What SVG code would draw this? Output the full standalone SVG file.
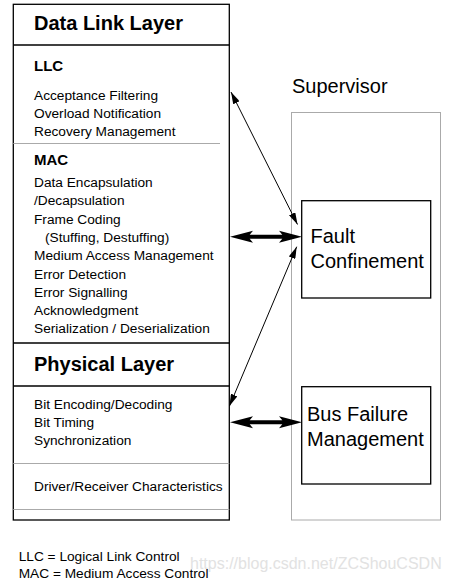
<svg xmlns="http://www.w3.org/2000/svg" width="449" height="581" viewBox="0 0 449 581">
<style>
text{font-family:"Liberation Sans",Arial,sans-serif;fill:#000}
.h{font-size:20px;font-weight:bold}
.s{font-size:15px;font-weight:bold}
.t{font-size:13.7px}
.b{font-size:20px}
.blk{stroke:#000;stroke-width:1.3;fill:none}
.gry{stroke:#aaa;stroke-width:1;fill:none}
.wm{font-size:16px;fill:#e2e2e2}
</style>
<defs>
<marker id="ah" viewBox="0 0 12 7" refX="12" refY="3.5" markerWidth="12" markerHeight="7" markerUnits="userSpaceOnUse" orient="auto-start-reverse">
<path d="M0,0 L12,3.5 L0,7 z" fill="#000"/>
</marker>
</defs>
<rect width="449" height="581" fill="#fff"/>
<g id="layers">
<rect class="blk" x="13.3" y="4.3" width="216" height="515.7"/>
<line class="blk" x1="13.3" y1="45" x2="229.3" y2="45"/>
<line class="gry" x1="13.3" y1="143.5" x2="220" y2="143.5"/>
<line class="blk" x1="13.3" y1="343" x2="229.3" y2="343"/>
<line class="blk" x1="13.3" y1="386" x2="229.3" y2="386"/>
<line class="gry" x1="13.3" y1="463.5" x2="229.3" y2="463.5"/>
<line class="gry" x1="13.3" y1="509.5" x2="229.3" y2="509.5"/>
<text class="h" x="34" y="29.5">Data Link Layer</text>
<text class="s" x="34" y="71">LLC</text>
<text class="t" x="34" y="100">Acceptance Filtering</text>
<text class="t" x="34" y="118">Overload Notification</text>
<text class="t" x="34" y="136">Recovery Management</text>
<text class="s" x="34" y="165">MAC</text>
<text class="t" x="34" y="187">Data Encapsulation</text>
<text class="t" x="34" y="205.3">/Decapsulation</text>
<text class="t" x="34" y="223.6">Frame Coding</text>
<text class="t" x="45" y="241.9">(Stuffing, Destuffing)</text>
<text class="t" x="34" y="260.2">Medium Access Management</text>
<text class="t" x="34" y="278.5">Error Detection</text>
<text class="t" x="34" y="296.8">Error Signalling</text>
<text class="t" x="34" y="315.1">Acknowledgment</text>
<text class="t" x="34" y="333.4">Serialization / Deserialization</text>
<text class="h" x="34" y="370.5">Physical Layer</text>
<text class="t" x="34" y="409">Bit Encoding/Decoding</text>
<text class="t" x="34" y="427">Bit Timing</text>
<text class="t" x="34" y="445">Synchronization</text>
<text class="t" x="34" y="491">Driver/Receiver Characteristics</text>
</g>
<g id="supervisor">
<rect class="gry" x="291.5" y="112.5" width="149" height="407.5"/>
<text class="b" x="292" y="93">Supervisor</text>
</g>
<g id="fault">
<rect class="blk" x="301.7" y="200.7" width="129" height="97.3"/>
<text class="b" x="310.5" y="243">Fault</text>
<text class="b" x="310.5" y="268">Confinement</text>
</g>
<g id="busfailure">
<rect class="blk" x="301.7" y="386.7" width="129" height="97.3"/>
<text class="b" x="307" y="421">Bus Failure</text>
<text class="b" x="307" y="446">Management</text>
</g>
<g id="connectors">
<line x1="231" y1="92" x2="297.5" y2="224.5" stroke="#000" stroke-width="1" marker-start="url(#ah)" marker-end="url(#ah)"/>
<line x1="296.7" y1="246.7" x2="229.5" y2="406" stroke="#000" stroke-width="1" marker-start="url(#ah)" marker-end="url(#ah)"/>
<polygon points="230,236.7 253,230.7 249.7,234.7 282.3,234.7 279,230.7 302,236.7 279,242.7 282.3,238.7 249.7,238.7 253,242.7" fill="#000"/>
<polygon points="230,422.3 253,416.3 249.7,420.3 282.3,420.3 279,416.3 302,422.3 279,428.3 282.3,424.3 249.7,424.3 253,428.3" fill="#000"/>
</g>
<g id="footer">
<text class="t" x="18.7" y="561">LLC = Logical Link Control</text>
<text class="t" x="18.7" y="578">MAC = Medium Access Control</text>
<text class="wm" x="190" y="569">https://blog.csdn.net/ZCShouCSDN</text>
</g>
</svg>
